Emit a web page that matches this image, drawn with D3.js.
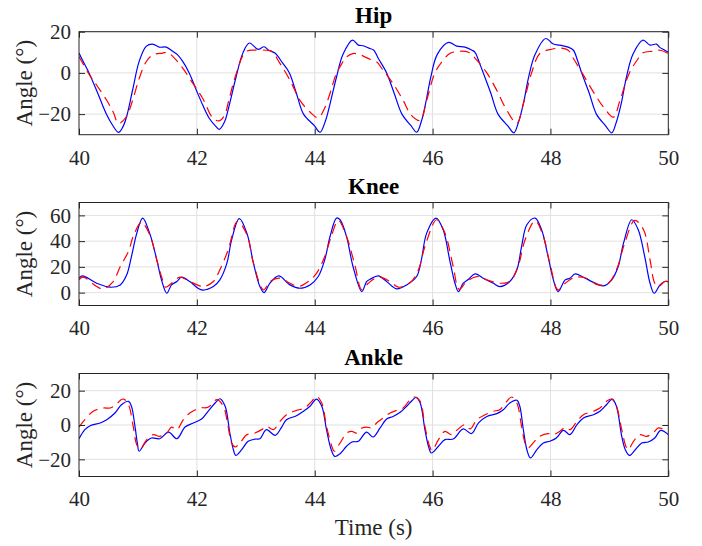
<!DOCTYPE html>
<html><head><meta charset="utf-8">
<script src="https://cdn.jsdelivr.net/npm/d3@7"></script>
<style>body{margin:0;background:#fff;} svg{display:block;}</style>
</head><body>
<script>
// ---------- data ----------
const timeTicks = [40, 42, 44, 46, 48, 50];
const timeDomain = [40, 50];
const panelTitles = ["Hip", "Knee", "Ankle"];
const hipDomain = [-30, 20];
const hipTicks = [-20, 0, 20];
const kneeDomain = [-10, 70];
const kneeTicks = [0, 20, 40, 60];
const ankleDomain = [-30, 30];
const ankleTicks = [-20, 0, 20];
const yLabel = "Angle (°)";
const xLabel = "Time (s)";

// [time (s), angle (deg)] — blue solid and red dashed series
const hipBlue = [[40.00,9.6],[40.08,5],[40.17,0],[40.32,-10],[40.46,-19.7],[40.57,-25.4],[40.67,-28.9],[40.73,-27],[40.80,-22],[40.91,-8.3],[41.02,5.5],[41.14,12.9],[41.25,14],[41.36,12.5],[41.48,12.5],[41.59,10.5],[41.67,8.9],[41.76,5.6],[41.87,0],[41.99,-8.3],[42.10,-15.6],[42.21,-22],[42.33,-26.2],[42.38,-27.4],[42.47,-23.7],[42.55,-15.6],[42.66,-2.6],[42.78,9.6],[42.89,14.5],[43.04,11.4],[43.14,12.7],[43.22,11],[43.33,9.5],[43.45,5],[43.57,0],[43.69,-10],[43.81,-20],[43.99,-25.5],[44.09,-28.8],[44.18,-23.5],[44.26,-15],[44.37,-2],[44.48,9],[44.64,15.9],[44.74,13.5],[44.82,13.2],[44.92,12],[45.00,11.1],[45.08,7],[45.22,0],[45.35,-10],[45.48,-20],[45.63,-25.5],[45.73,-28.8],[45.81,-23.5],[45.88,-15],[45.97,-2],[46.08,9],[46.27,14.8],[46.41,13],[46.55,12.5],[46.67,11],[46.72,10],[46.80,4.5],[46.86,0],[46.99,-10],[47.11,-20],[47.28,-25.8],[47.38,-29.1],[47.46,-23.7],[47.54,-15],[47.63,-2],[47.74,9],[47.92,16.7],[48.05,14],[48.16,13.5],[48.30,12.5],[48.39,11],[48.46,6],[48.53,0],[48.66,-10],[48.78,-20],[48.94,-25.8],[49.04,-29.1],[49.12,-23.7],[49.20,-15],[49.29,-2],[49.40,9],[49.57,15.9],[49.69,13.5],[49.80,14],[49.85,12.5],[49.94,11],[50.00,10]];
const hipRed = [[40.00,8],[40.18,-1.1],[40.30,-6],[40.47,-13.3],[40.58,-19],[40.67,-24.5],[40.80,-21.4],[40.91,-13.3],[41.02,-2.8],[41.14,5.4],[41.25,8.7],[41.42,9.6],[41.50,10],[41.59,8],[41.76,2.3],[41.93,-5],[42.10,-12.4],[42.27,-21.9],[42.38,-23.3],[42.47,-20.5],[42.55,-12.4],[42.66,-1.1],[42.83,10.3],[43.00,11.1],[43.18,11],[43.27,10.5],[43.41,4.6],[43.58,-3.5],[43.75,-13.3],[43.92,-19],[44.06,-21.8],[44.17,-17],[44.27,-9],[44.37,0],[44.43,3],[44.53,7.5],[44.65,9.4],[44.77,8.8],[44.85,7.8],[44.95,6.5],[45.05,5.4],[45.16,1.3],[45.33,-5.2],[45.50,-13.3],[45.64,-20.6],[45.79,-23.1],[45.90,-13.3],[46.04,0],[46.18,6.2],[46.30,9.5],[46.46,10.5],[46.61,10],[46.75,6.2],[46.92,0],[47.09,-8.5],[47.23,-16.6],[47.43,-24.4],[47.54,-15],[47.68,0],[47.82,9.4],[48.02,11.5],[48.19,12],[48.30,11],[48.39,7],[48.56,-1.1],[48.73,-9.3],[48.90,-16.6],[49.07,-21.5],[49.18,-13.3],[49.34,0],[49.49,7],[49.57,9.8],[49.74,10.5],[49.86,11],[50.00,9.4]];

const kneeBlue = [[40.00,11.2],[40.06,13.0],[40.30,7.3],[40.53,4.2],[40.70,6.0],[40.81,13.8],[40.89,28],[40.98,46],[41.08,57.9],[41.20,46],[41.32,25.5],[41.40,9.9],[41.49,-0.5],[41.57,6.0],[41.66,8.6],[41.74,12],[41.88,8.6],[42.08,2.1],[42.28,4.7],[42.39,9.9],[42.51,22.9],[42.59,41],[42.72,57.4],[42.85,46],[42.96,22.9],[43.07,4.7],[43.14,0],[43.24,7.3],[43.39,13],[43.58,6],[43.75,3.4],[43.92,6],[44.06,12.5],[44.17,25.5],[44.26,43.6],[44.37,57.9],[44.43,56.6],[44.54,43.6],[44.65,20.3],[44.80,0.8],[44.88,8.6],[44.94,10.4],[45.08,13],[45.22,8.6],[45.39,2.9],[45.56,6],[45.73,12.5],[45.81,25.5],[45.90,46.2],[46.06,57.9],[46.18,48.8],[46.29,25.5],[46.38,7.3],[46.44,0.8],[46.52,7.3],[46.61,10.4],[46.72,14.5],[46.86,11.2],[47.03,7.3],[47.14,4.7],[47.31,8.6],[47.43,17.7],[47.51,35.8],[47.60,52.7],[47.74,57.9],[47.85,48.8],[47.96,28],[48.05,9.9],[48.13,0.8],[48.25,9.9],[48.33,11.2],[48.42,14.5],[48.56,12],[48.73,8],[48.90,5.2],[49.04,9.9],[49.15,20.3],[49.24,38.4],[49.38,56.6],[49.49,48.8],[49.60,28],[49.69,7.3],[49.76,-0.5],[49.86,6],[49.94,8.6],[50.00,8.6]];
const kneeRed = [[40.00,9.9],[40.07,12],[40.30,4.7],[40.41,2.9],[40.58,8.6],[40.70,20.3],[40.84,32],[40.92,43.6],[41.06,54.5],[41.20,45],[41.32,25.5],[41.40,12.5],[41.47,4.2],[41.57,7.3],[41.71,12],[41.88,8.6],[42.05,5.2],[42.11,4.5],[42.28,8.6],[42.39,17.7],[42.53,33],[42.69,55.3],[42.85,45],[42.96,22.9],[43.13,2.1],[43.24,8.6],[43.41,11.2],[43.58,7.3],[43.72,4.7],[43.89,8.6],[44.03,15],[44.17,28],[44.29,45],[44.40,56.1],[44.54,43.6],[44.68,21.6],[44.80,2.1],[44.91,7.3],[45.08,12],[45.28,8.6],[45.42,4.2],[45.62,7.8],[45.76,17.7],[45.87,35.8],[46.07,56.6],[46.21,46.2],[46.35,20.3],[46.45,2.6],[46.58,8.6],[46.75,12.5],[46.92,9.9],[47.14,7.3],[47.31,8.6],[47.45,20.3],[47.57,41],[47.74,55.8],[47.88,43.6],[47.99,22.9],[48.13,2.1],[48.25,7.3],[48.42,12],[48.61,11.2],[48.81,6],[48.98,7.3],[49.12,17.7],[49.26,38.4],[49.43,56.1],[49.58,48.8],[49.69,25.5],[49.77,7.3],[49.83,4.7],[49.94,8.6],[50.00,8.6]];

const ankleBlue = [[40.00,-8],[40.10,-2.7],[40.19,-0.4],[40.36,1.2],[40.47,3.1],[40.61,7],[40.72,11.8],[40.84,13.8],[40.89,10.9],[40.95,-0.8],[40.99,-10.5],[41.02,-15.3],[41.12,-10.5],[41.23,-7.6],[41.37,-8],[41.52,-4.1],[41.66,-8],[41.80,-1.2],[41.94,1.2],[42.08,3.5],[42.19,8],[42.31,12.8],[42.39,15.3],[42.48,10.9],[42.56,-4.7],[42.62,-14.4],[42.66,-17.7],[42.76,-14.4],[42.87,-9.5],[42.99,-8.2],[43.07,-8],[43.18,-2.7],[43.33,-6],[43.44,-1.2],[43.52,3.1],[43.69,5.4],[43.81,8],[43.92,10.9],[44.03,15.1],[44.12,10.9],[44.20,-2.7],[44.28,-14.4],[44.34,-18.3],[44.43,-16.7],[44.54,-12.4],[44.63,-9.9],[44.74,-9.5],[44.88,-4.1],[44.99,-7],[45.11,-1.7],[45.22,3.5],[45.33,5],[45.45,7.4],[45.56,10.9],[45.64,13.8],[45.72,16.1],[45.79,12.8],[45.87,-2.7],[45.93,-12.4],[45.98,-16.3],[46.10,-12.4],[46.21,-8.5],[46.35,-8.2],[46.52,-2.3],[46.66,-5],[46.78,1.2],[46.92,5],[47.09,6.6],[47.20,8.9],[47.31,12.8],[47.43,14.4],[47.48,10.9],[47.54,-2.7],[47.60,-14.4],[47.66,-19.2],[47.77,-14.4],[47.88,-10.5],[47.99,-9.5],[48.10,-7.6],[48.22,-3.1],[48.33,-5.6],[48.45,0.2],[48.56,4.1],[48.73,6],[48.84,8],[48.95,11.8],[49.05,15.1],[49.12,10.9],[49.21,-6.6],[49.27,-14.4],[49.34,-17.7],[49.44,-14.4],[49.55,-10.5],[49.66,-9.9],[49.77,-7.6],[49.87,-3.1],[50.00,-5.6]];
const ankleRed = [[40.00,-1.2],[40.10,3.1],[40.24,8],[40.41,9.9],[40.53,9.9],[40.61,11.3],[40.72,14.8],[40.76,15.1],[40.84,11.8],[40.92,-0.8],[40.98,-11.5],[41.04,-14],[41.15,-8.5],[41.26,-5.6],[41.37,-6.6],[41.49,-4.7],[41.57,-1.2],[41.66,-2.7],[41.77,3.1],[41.88,7],[42.05,9.9],[42.19,10.3],[42.34,14.8],[42.45,10.9],[42.53,-0.8],[42.59,-10.5],[42.65,-12.8],[42.73,-10.5],[42.85,-5.6],[42.96,-5],[43.10,-2.7],[43.18,-0.8],[43.30,-2.7],[43.41,2.1],[43.52,6],[43.69,8.5],[43.83,9.9],[43.95,13.8],[44.03,16.7],[44.12,12.8],[44.20,-0.8],[44.29,-12.4],[44.33,-15.3],[44.43,-10.5],[44.54,-4.7],[44.63,-3.7],[44.71,-4.7],[44.80,-1.7],[44.88,-1.2],[44.97,-1.7],[45.05,1.2],[45.16,4.1],[45.28,7],[45.39,8.5],[45.50,9.9],[45.62,14.8],[45.70,16.3],[45.79,13.8],[45.87,-0.8],[45.95,-12.4],[45.99,-14.8],[46.10,-8.5],[46.21,-3.7],[46.32,-5.6],[46.41,-3.1],[46.55,0.2],[46.64,-2.3],[46.75,3.1],[46.86,5.4],[47.03,8],[47.14,8.9],[47.26,13.8],[47.34,16.3],[47.43,12.8],[47.51,-0.8],[47.57,-10.5],[47.62,-13.4],[47.73,-9.5],[47.82,-6.6],[47.96,-5],[48.05,-5.6],[48.16,-3.7],[48.25,-1.4],[48.33,-2.7],[48.45,2.1],[48.56,6],[48.73,8],[48.84,9.9],[48.95,13.8],[49.04,15.1],[49.12,10.9],[49.21,-2.7],[49.28,-12.4],[49.32,-14.4],[49.41,-9.5],[49.52,-5.6],[49.63,-6.6],[49.74,-4.7],[49.83,-1.7],[49.91,-2.3],[50.00,-3.1]];

// ---------- layout ----------
const W = 702, H = 546;
const left = 79, right = 668.3, panelH = 103;
const panelTops = [31.7, 202.5, 373.5];
const panels = [
  {title: panelTitles[0], domain: hipDomain, ticks: hipTicks, blue: hipBlue, red: hipRed},
  {title: panelTitles[1], domain: kneeDomain, ticks: kneeTicks, blue: kneeBlue, red: kneeRed},
  {title: panelTitles[2], domain: ankleDomain, ticks: ankleTicks, blue: ankleBlue, red: ankleRed}
];
const axisColor = "#262626";
const gridColor = "#e0e0e0";
const fontFam = "'Liberation Serif','Times New Roman',serif";

const svg = d3.select("body").append("svg").attr("width", W).attr("height", H);
svg.append("rect").attr("width", W).attr("height", H).attr("fill", "#fff");

const x = d3.scaleLinear().domain(timeDomain).range([left, right]);

panels.forEach((p, i) => {
  const top = panelTops[i], bottom = top + panelH;
  const y = d3.scaleLinear().domain(p.domain).range([bottom, top]);
  const g = svg.append("g");

  // grid
  g.append("g").selectAll("line").data(timeTicks.slice(1, -1)).join("line")
    .attr("x1", d => x(d)).attr("x2", d => x(d)).attr("y1", top).attr("y2", bottom)
    .attr("stroke", gridColor).attr("stroke-width", 1);
  g.append("g").selectAll("line").data(p.ticks).join("line")
    .attr("x1", left).attr("x2", right).attr("y1", d => y(d)).attr("y2", d => y(d))
    .attr("stroke", gridColor).attr("stroke-width", 1);

  // clip
  const cid = "clip" + i;
  svg.append("clipPath").attr("id", cid).append("rect")
    .attr("x", left).attr("y", top).attr("width", right - left).attr("height", panelH);

  const line = d3.line().x(d => x(d[0])).y(d => y(d[1])).curve(d3.curveCatmullRom.alpha(0.5));
  const lg = g.append("g").attr("clip-path", `url(#${cid})`);
  lg.append("path").attr("d", line(p.blue)).attr("fill", "none")
    .attr("stroke", "#0000ff").attr("stroke-width", 1.2);
  lg.append("path").attr("d", line(p.red)).attr("fill", "none")
    .attr("stroke", "#ff0000").attr("stroke-width", 1.2).attr("stroke-dasharray", "10,6");

  // axes (ticks inside)
  const tl = 6;
  const xb = g.append("g").attr("transform", `translate(0,${bottom})`)
    .call(d3.axisBottom(x).tickValues(timeTicks).tickSizeInner(-tl).tickSizeOuter(0).tickPadding(15).tickFormat(d3.format("d")));
  const xt = g.append("g").attr("transform", `translate(0,${top})`)
    .call(d3.axisTop(x).tickValues(timeTicks).tickSizeInner(-tl).tickSizeOuter(0).tickFormat(""));
  const yl = g.append("g").attr("transform", `translate(${left},0)`)
    .call(d3.axisLeft(y).tickValues(p.ticks).tickSizeInner(-tl).tickSizeOuter(0).tickPadding(8).tickFormat(d3.format("d")));
  const yr = g.append("g").attr("transform", `translate(${right},0)`)
    .call(d3.axisRight(y).tickValues(p.ticks).tickSizeInner(-tl).tickSizeOuter(0).tickFormat(""));
  [xb, xt, yl, yr].forEach(a => {
    a.select(".domain").remove();
    a.selectAll("line").attr("stroke", axisColor);
    a.selectAll("text").attr("fill", axisColor).attr("font-family", fontFam).attr("font-size", 21);
  });
  xb.selectAll("text").attr("dy", "0.71em");
  // box
  g.append("rect").attr("x", left).attr("y", top).attr("width", right - left).attr("height", panelH)
    .attr("fill", "none").attr("stroke", axisColor).attr("stroke-width", 1);

  // title
  g.append("text").attr("x", (left + right) / 2).attr("y", top - 9)
    .attr("text-anchor", "middle").attr("font-family", fontFam).attr("font-weight", "bold")
    .attr("font-size", 23).attr("fill", "#000").text(p.title);

  // y label
  g.append("text").attr("transform", `translate(32,${(top + bottom) / 2}) rotate(-90)`)
    .attr("text-anchor", "middle").attr("font-family", fontFam).attr("font-size", 23)
    .attr("fill", axisColor).text(yLabel);
});

svg.append("text").attr("x", (left + right) / 2).attr("y", 535)
  .attr("text-anchor", "middle").attr("font-family", fontFam).attr("font-size", 23)
  .attr("fill", axisColor).text(xLabel);
</script>
</body></html>
